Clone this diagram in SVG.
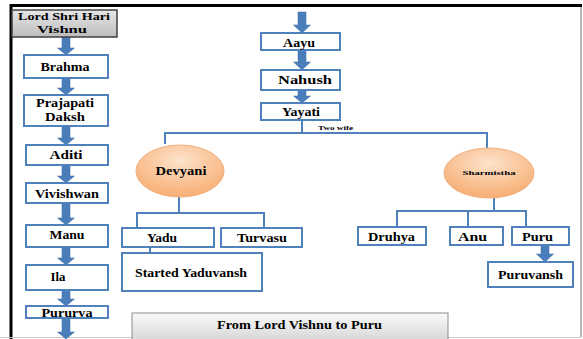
<svg xmlns="http://www.w3.org/2000/svg" width="583" height="339" viewBox="0 0 583 339">
<defs>
<linearGradient id="gGray" x1="0" y1="0" x2="0" y2="1"><stop offset="0" stop-color="#e6e6e6"/><stop offset="1" stop-color="#bdbdbd"/></linearGradient>
<linearGradient id="gTitle" x1="0" y1="0" x2="0" y2="1"><stop offset="0" stop-color="#fafafa"/><stop offset="1" stop-color="#d4d4d4"/></linearGradient>
<radialGradient id="gOrange" cx="0.5" cy="0.3" r="0.7"><stop offset="0" stop-color="#fde3cb"/><stop offset="1" stop-color="#f7ad72"/></radialGradient>
<style>
.box{fill:#ffffff;stroke:#4f81bd;stroke-width:2}
.ell{fill:url(#gOrange);stroke:#f0b07e;stroke-width:1}
.ln{fill:none;stroke:#4f81bd;stroke-width:2}
.ar{fill:#4a7ebb;stroke:#3a6aa5;stroke-width:0.5}
.t{font-family:'Liberation Serif','DejaVu Serif',serif;font-weight:bold;fill:#000;text-anchor:middle;font-size:12px}
.sm{font-size:7px}
.hd{font-size:10.5px}
</style>
</defs>
<rect x="0" y="0" width="583" height="339" fill="#ffffff"/>
<g id="frame">
<line x1="11" y1="4" x2="11" y2="339" stroke="#000" stroke-width="3"/>
<line x1="10" y1="5.5" x2="582" y2="5.5" stroke="#000" stroke-width="3"/>
<line x1="581" y1="7" x2="581" y2="337" stroke="#a0a0a0" stroke-width="1.5"/>
<line x1="0" y1="337.5" x2="581" y2="337.5" stroke="#c8c8c8" stroke-width="1"/>
</g>
<g id="connectors">
<path class="ar" d="M62,37 H70 V48 H74.5 L66,55 L57.5,48 H62 Z"/>
<path class="ar" d="M62,78 H70 V88 H74.5 L66,95 L57.5,88 H62 Z"/>
<path class="ar" d="M62,126 H70 V138 H74.5 L66,145 L57.5,138 H62 Z"/>
<path class="ar" d="M62,165 H70 V176 H74.5 L66,183 L57.5,176 H62 Z"/>
<path class="ar" d="M62,203 H70 V218 H74.5 L66,225 L57.5,218 H62 Z"/>
<path class="ar" d="M62,247 H70 V258 H74.5 L66,265 L57.5,258 H62 Z"/>
<path class="ar" d="M62,290 H70 V299 H74.5 L66,306 L57.5,299 H62 Z"/>
<path class="ar" d="M62,318 H70 V332 H74.5 L66,339 L57.5,332 H62 Z"/>
<path class="ar" d="M298,12 H306 V25 H310.5 L302,33 L293.5,25 H298 Z"/>
<path class="ar" d="M298,50 H306 V62 H310.5 L302,70 L293.5,62 H298 Z"/>
<path class="ar" d="M298,90 H306 V96 H310.5 L302,103 L293.5,96 H298 Z"/>
<path class="ar" d="M541,245 H549 V254 H553.5 L545,262 L536.5,254 H541 Z"/>
<path class="ln" d="M302,120 V133 M165,144 V133 H487 V152"/>
<path class="ln" d="M179,197 V213 M137,228 V213 H264 V228"/>
<path class="ln" d="M150,247 V253"/>
<path class="ln" d="M494,197 V211 M397,227 V211 H526 V227 M468,211 V227"/>
</g>
<g id="n_lord"><rect x="12" y="10" width="105" height="27" fill="url(#gGray)" stroke="#404040" stroke-width="1.5"/><text class="t hd" x="64" y="19.5" textLength="92" lengthAdjust="spacingAndGlyphs">Lord Shri Hari</text><text class="t hd" x="62" y="32.5" textLength="50" lengthAdjust="spacingAndGlyphs">Vishnu</text></g>
<g id="n_brahma"><rect class="box" x="24" y="55" width="84" height="23"/><text class="t" x="65" y="71" textLength="49" lengthAdjust="spacingAndGlyphs">Brahma</text></g>
<g id="n_daksh"><rect class="box" x="24" y="95" width="84" height="31"/><text class="t" x="65" y="107" textLength="58" lengthAdjust="spacingAndGlyphs">Prajapati</text><text class="t" x="65" y="121" textLength="40" lengthAdjust="spacingAndGlyphs">Daksh</text></g>
<g id="n_aditi"><rect class="box" x="26" y="145" width="82" height="20"/><text class="t" x="66" y="159" textLength="33" lengthAdjust="spacingAndGlyphs">Aditi</text></g>
<g id="n_vivishwan"><rect class="box" x="26" y="183" width="82" height="20"/><text class="t" x="67" y="198" textLength="64" lengthAdjust="spacingAndGlyphs">Vivishwan</text></g>
<g id="n_manu"><rect class="box" x="26" y="225" width="82" height="22"/><text class="t" x="67" y="239" textLength="35" lengthAdjust="spacingAndGlyphs">Manu</text></g>
<g id="n_ila"><rect class="box" x="26" y="265" width="82" height="25"/><text class="t" x="58" y="281" textLength="15" lengthAdjust="spacingAndGlyphs">Ila</text></g>
<g id="n_pururva"><rect class="box" x="26" y="306" width="82" height="12"/><text class="t" x="67" y="316.5" textLength="51" lengthAdjust="spacingAndGlyphs">Pururva</text></g>
<g id="n_aayu"><rect class="box" x="261" y="33" width="79" height="17"/><text class="t" x="299" y="47" textLength="32" lengthAdjust="spacingAndGlyphs">Aayu</text></g>
<g id="n_nahush"><rect class="box" x="261" y="70" width="79" height="20"/><text class="t" x="305" y="84" textLength="54" lengthAdjust="spacingAndGlyphs">Nahush</text></g>
<g id="n_yayati"><rect class="box" x="261" y="103" width="79" height="17"/><text class="t" x="301" y="116" textLength="38" lengthAdjust="spacingAndGlyphs">Yayati</text></g>
<g id="l_twowife"><text class="t sm" x="335.5" y="130" textLength="35" lengthAdjust="spacingAndGlyphs">Two wife</text></g>
<g id="n_devyani"><ellipse class="ell" cx="180" cy="171" rx="44" ry="26"/><text class="t" x="181" y="174.5" textLength="51" lengthAdjust="spacingAndGlyphs">Devyani</text></g>
<g id="n_sharmistha"><ellipse class="ell" cx="489" cy="173" rx="45" ry="25"/><text class="t sm" x="489" y="175" textLength="53" lengthAdjust="spacingAndGlyphs">Sharmistha</text></g>
<g id="n_yadu"><rect class="box" x="122" y="228" width="92" height="19"/><text class="t" x="162" y="242" textLength="30" lengthAdjust="spacingAndGlyphs">Yadu</text></g>
<g id="n_turvasu"><rect class="box" x="221" y="228" width="81" height="19"/><text class="t" x="262" y="242" textLength="50" lengthAdjust="spacingAndGlyphs">Turvasu</text></g>
<g id="n_yaduvansh"><rect class="box" x="122" y="253" width="140" height="38"/><text class="t" x="191" y="277" textLength="112" lengthAdjust="spacingAndGlyphs">Started Yaduvansh</text></g>
<g id="n_druhya"><rect class="box" x="358" y="227" width="68" height="18"/><text class="t" x="391.5" y="241" textLength="47" lengthAdjust="spacingAndGlyphs">Druhya</text></g>
<g id="n_anu"><rect class="box" x="450" y="227" width="53" height="18"/><text class="t" x="472.5" y="241" textLength="29" lengthAdjust="spacingAndGlyphs">Anu</text></g>
<g id="n_puru"><rect class="box" x="512" y="227" width="57" height="18"/><text class="t" x="537.5" y="241" textLength="31" lengthAdjust="spacingAndGlyphs">Puru</text></g>
<g id="n_puruvansh"><rect class="box" x="488" y="262" width="85" height="25"/><text class="t" x="530.5" y="279" textLength="65" lengthAdjust="spacingAndGlyphs">Puruvansh</text></g>
<g id="n_title"><rect x="132" y="313" width="316" height="30" fill="url(#gTitle)" stroke="#8c8c8c" stroke-width="1"/><text class="t" x="299.5" y="329" textLength="165" lengthAdjust="spacingAndGlyphs">From Lord Vishnu to Puru</text></g>
</svg>
